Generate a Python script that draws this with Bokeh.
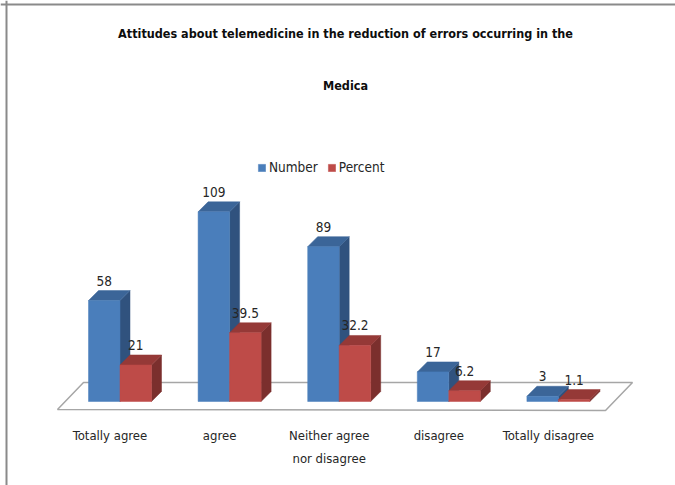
from bokeh.plotting import figure
from bokeh.models import Range1d, Legend, LegendItem, Span
from bokeh.core.properties import value
from bokeh.embed import file_html
from bokeh.resources import INLINE

# ---- data ----
categories = ["Totally agree", "agree", "Neither agree\nnor disagree", "disagree", "Totally disagree"]
number = [58, 109, 89, 17, 3]
percent = [21, 39.5, 32.2, 6.2, 1.1]
number_labels = ["58", "109", "89", "17", "3"]
percent_labels = ["21", "39.5", "32.2", "6.2", "1.1"]
title_lines = ["Attitudes about telemedicine in the reduction of errors occurring in the", "Medica"]
series_names = ["Number", "Percent"]

# ---- layout constants (pixel geometry of the canvas) ----
W, H = 675, 485
X0, SX = 119.5, 109.6      # pixel x of first category centre, pixels per category
Y0, SY = 401.0, 1.74       # pixel y (from top) of value 0, pixels per unit

def xd(px):
    return (px - X0) / SX

def yd(py):
    return (Y0 - py) / SY

BAR_W = 31.5 / SX
DX = 10 / SX
DY = 10 / SY

FONT_STR = "'Liberation Sans Narrow', 'DejaVu Sans Condensed', 'Open Sans', sans-serif"
FONT = value(FONT_STR)

p = figure(width=W, height=H, output_backend="svg", toolbar_location=None,
           x_range=Range1d(xd(0), xd(W)), y_range=Range1d(yd(H), yd(0)),
           min_border=0)
p.axis.visible = False
p.grid.visible = False
p.outline_line_color = None
p.background_fill_color = "white"
p.border_fill_color = "white"

# frame lines (top and left)
p.add_layout(Span(location=yd(4), dimension="width", line_color="#8a8a8a", line_width=2))
p.add_layout(Span(location=xd(6), dimension="height", line_color="#8a8a8a", line_width=2))

# floor
n = len(categories)
fl_x = [xd(57), xd(605), xd(632), xd(83)]
fl_y = [yd(409), yd(410), yd(382), yd(382)]
p.patch(fl_x, fl_y, fill_color="white", line_color="#a6a6a6", line_width=1.5)

idx = list(range(n))

def bar3d(vals, left_shift, front, top, side):
    lefts = [i + left_shift for i in idx]
    rights = [l + BAR_W for l in lefts]
    top_xs = [[l, l + DX, r + DX, r] for l, r in zip(lefts, rights)]
    top_ys = [[v, v + DY, v + DY, v] for v in vals]
    side_xs = [[r, r + DX, r + DX, r] for r in rights]
    side_ys = [[0, DY, v + DY, v] for v in vals]
    p.patches(side_xs, side_ys, fill_color=side, line_color=side, line_width=0.5)
    p.patches(top_xs, top_ys, fill_color=top, line_color=top, line_width=0.5)
    r = p.quad(left=lefts, right=rights, bottom=[0] * n, top=vals,
               fill_color=front, line_color=front, line_width=0.5)
    return r

r_num = bar3d(number, -BAR_W, "#4a7ebb", "#3b6598", "#30527e")
r_pct = bar3d(percent, 0, "#be4b48", "#953937", "#7b2f2d")

# value labels
gap = 10 / SY
p.text(x=[i - BAR_W / 2 for i in idx], y=[v + DY + gap for v in number], text=number_labels,
       text_font=FONT, text_font_size="13.5px", text_color="#262626",
       text_align="center", text_baseline="middle")
p.text(x=[i + BAR_W / 2 for i in idx], y=[v + DY + gap for v in percent], text=percent_labels,
       text_font=FONT, text_font_size="13.5px", text_color="#262626",
       text_align="center", text_baseline="middle")

# category labels
lab_shift = 10 / SX
p.text(x=[i - lab_shift for i in idx], y=[yd(427)] * n, text=categories,
       text_font=FONT, text_font_size="13px", text_color="#262626",
       text_align="center", text_baseline="top", text_line_height=1.55)

# title
p.text(x=[xd(345), xd(345)], y=[yd(33), yd(85)], text=title_lines,
       text_font=FONT, text_font_size="12.5px", text_font_style="bold", text_color="#0d0d0d",
       text_align="center", text_baseline="middle")

# legend
legend = Legend(items=[LegendItem(label=series_names[0], renderers=[r_num]),
                       LegendItem(label=series_names[1], renderers=[r_pct])],
                orientation="horizontal", location=(257, 310),
                glyph_width=9, glyph_height=9, label_standoff=3, spacing=9,
                padding=0, margin=0, border_line_color=None, background_fill_alpha=0,
                label_text_font=FONT_STR, label_text_font_size="13.5px", label_text_color="#262626",
                label_height=15)
p.add_layout(legend)

open("out.html", "w").write(file_html(p, INLINE))
